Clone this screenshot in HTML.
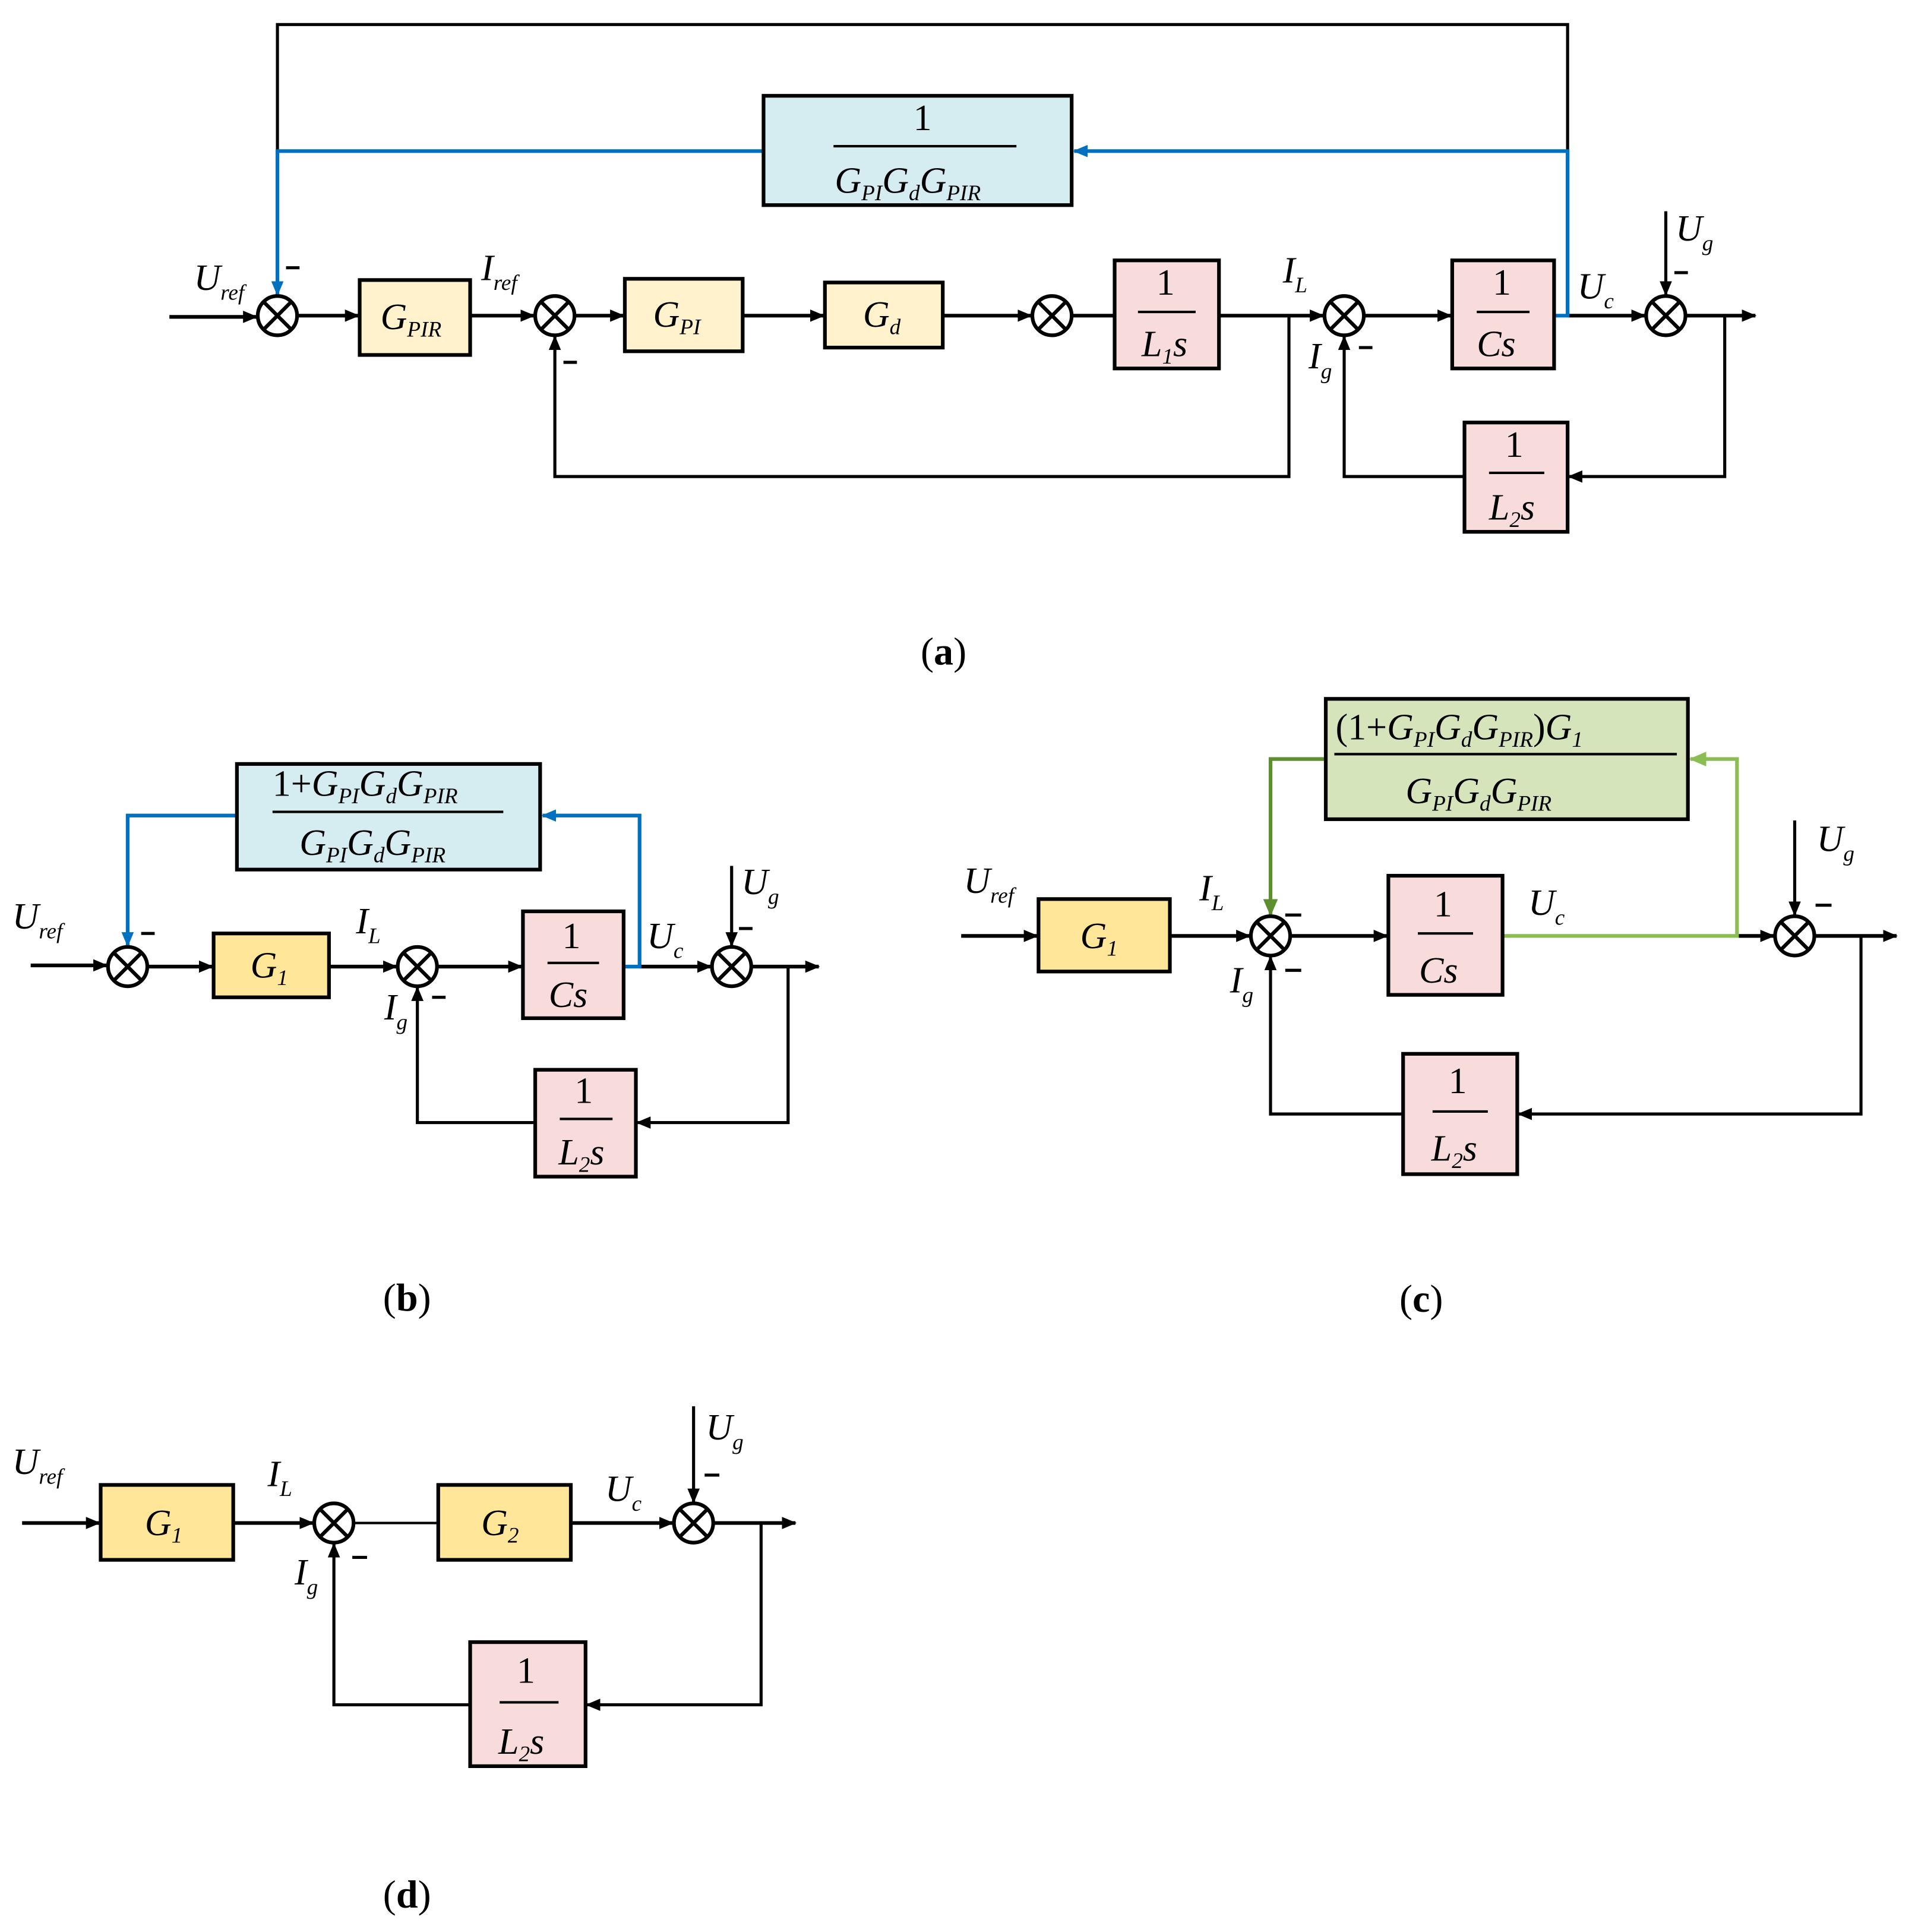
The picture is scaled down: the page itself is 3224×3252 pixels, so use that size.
<!DOCTYPE html>
<html><head><meta charset="utf-8"><style>
html,body{margin:0;padding:0;background:#fff}
svg{display:block}
text{font-family:"Liberation Serif",serif;font-style:italic;fill:#000}
.n{font-style:normal}
.b{font-style:normal;font-weight:bold}
</style></head><body>
<svg width="3224" height="3252" viewBox="0 0 1560 1573" preserveAspectRatio="none" xmlns="http://www.w3.org/2000/svg">
<defs>
<marker id="a" markerUnits="userSpaceOnUse" markerWidth="12" markerHeight="10" refX="11" refY="5" orient="auto"><path d="M0,0 L12,5 L0,10 Z" fill="#000"/></marker>
<marker id="ab" markerUnits="userSpaceOnUse" markerWidth="12" markerHeight="10" refX="11" refY="5" orient="auto"><path d="M0,0 L12,5 L0,10 Z" fill="#0070c0"/></marker>
<marker id="ag" markerUnits="userSpaceOnUse" markerWidth="14" markerHeight="12" refX="13" refY="6" orient="auto"><path d="M0,0 L14,6 L0,12 Z" fill="#5e8f2e"/></marker>
<marker id="alg" markerUnits="userSpaceOnUse" markerWidth="14" markerHeight="12" refX="13" refY="6" orient="auto"><path d="M0,0 L14,6 L0,12 Z" fill="#8bbd52"/></marker>
<g id="s"><circle r="16" fill="#fff" stroke="#000" stroke-width="3"/><path d="M-11,-11 L11,11 M11,-11 L-11,11" stroke="#000" stroke-width="3"/></g>
</defs>
<g fill="none" stroke="#000" stroke-width="3">
<!-- Panel a -->
<path d="M138,258 H209" marker-end="url(#a)"/>
<path d="M242,257 H292" marker-end="url(#a)"/>
<path d="M383,257 H435" marker-end="url(#a)"/>
<path d="M468,257 H508" marker-end="url(#a)"/>
<path d="M605,257 H671" marker-end="url(#a)"/>
<path d="M768,257 H840" marker-end="url(#a)"/>
<path d="M873,257 H908"/>
<path d="M993,257 H1078" marker-end="url(#a)"/>
<path d="M1111,257 H1182" marker-end="url(#a)"/>
<path d="M1277,257 H1340" marker-end="url(#a)"/>
<path d="M1373,257 H1430" marker-end="url(#a)"/>
<path d="M1050,257 V388 H452 V274" stroke-width="2.5" marker-end="url(#a)"/>
<path d="M1405,257 V388 H1278" stroke-width="2.5" marker-end="url(#a)"/>
<path d="M1193,388 H1095 V274" stroke-width="2.5" marker-end="url(#a)"/>
<path d="M1277,123 V20 H226 V123" stroke-width="2.5"/>
<path d="M1357,172 V240" stroke-width="2.5" marker-end="url(#a)"/>
<!-- Panel b -->
<path d="M25,786 H87" marker-end="url(#a)"/>
<path d="M120,787 H173" marker-end="url(#a)"/>
<path d="M268,787 H323" marker-end="url(#a)"/>
<path d="M356,787 H425" marker-end="url(#a)"/>
<path d="M521,787 H579" marker-end="url(#a)"/>
<path d="M612,787 H667" marker-end="url(#a)"/>
<path d="M642,787 V914 H519" stroke-width="2.5" marker-end="url(#a)"/>
<path d="M436,914 H340 V804" stroke-width="2.5" marker-end="url(#a)"/>
<path d="M596,705 V770" stroke-width="2.5" marker-end="url(#a)"/>
<!-- Panel c -->
<path d="M783,762 H845" marker-end="url(#a)"/>
<path d="M953,762 H1018" marker-end="url(#a)"/>
<path d="M1051,762 H1130" marker-end="url(#a)"/>
<path d="M1415,762 H1445" marker-end="url(#a)"/>
<path d="M1478,762 H1545" marker-end="url(#a)"/>
<path d="M1516,762 V907 H1237" stroke-width="2.5" marker-end="url(#a)"/>
<path d="M1143,907 H1035 V779" stroke-width="2.5" marker-end="url(#a)"/>
<path d="M1462,668 V745" stroke-width="2.5" marker-end="url(#a)"/>
<!-- Panel d -->
<path d="M18,1240 H81" marker-end="url(#a)"/>
<path d="M190,1240 H255" marker-end="url(#a)"/>
<path d="M288,1240 H357" stroke-width="2"/>
<path d="M465,1240 H548" marker-end="url(#a)"/>
<path d="M581,1240 H648" marker-end="url(#a)"/>
<path d="M620,1240 V1388 H478" stroke-width="2.5" marker-end="url(#a)"/>
<path d="M383,1388 H272 V1257" stroke-width="2.5" marker-end="url(#a)"/>
<path d="M565,1145 V1223" stroke-width="2.5" marker-end="url(#a)"/>
</g>
<!-- blue/green lines -->
<g fill="none" stroke-width="3">
<path d="M1266,257 H1277 V123 H875" stroke="#0070c0" marker-end="url(#ab)"/>
<path d="M622,123 H226 V240" stroke="#0070c0" marker-end="url(#ab)"/>
<path d="M508,787 H521 V664 H442" stroke="#0070c0" marker-end="url(#ab)"/>
<path d="M193,664 H104 V770" stroke="#0070c0" marker-end="url(#ab)"/>
<path d="M1224,762 H1415 V618 H1377" stroke="#8bbd52" marker-end="url(#alg)"/>
<path d="M1080,618 H1035 V745" stroke="#5e8f2e" marker-end="url(#ag)"/>
</g>
<!-- sums -->
<use href="#s" x="226" y="257"/><use href="#s" x="452" y="257"/><use href="#s" x="857" y="257"/><use href="#s" x="1095" y="257"/><use href="#s" x="1357" y="257"/>
<use href="#s" x="104" y="787"/><use href="#s" x="340" y="787"/><use href="#s" x="596" y="787"/>
<use href="#s" x="1035" y="762"/><use href="#s" x="1462" y="762"/>
<use href="#s" x="272" y="1240"/><use href="#s" x="565" y="1240"/>
<!-- boxes -->
<g stroke="#000" stroke-width="3">
<rect x="293" y="228" width="90" height="61" fill="#fff2cc"/>
<rect x="509" y="227" width="96" height="59" fill="#fff2cc"/>
<rect x="672" y="230" width="96" height="53" fill="#fff2cc"/>
<rect x="908" y="212" width="85" height="88" fill="#f8dcdc"/>
<rect x="1183" y="212" width="83" height="88" fill="#f8dcdc"/>
<rect x="1193" y="344" width="84" height="89" fill="#f8dcdc"/>
<rect x="622" y="78" width="251" height="89" fill="#d5ecf1"/>
<rect x="174" y="760" width="94" height="52" fill="#ffe699"/>
<rect x="426" y="742" width="82" height="87" fill="#f8dcdc"/>
<rect x="436" y="871" width="82" height="87" fill="#f8dcdc"/>
<rect x="193" y="622" width="247" height="86" fill="#d5ecf1"/>
<rect x="846" y="732" width="107" height="59" fill="#ffe699"/>
<rect x="1131" y="713" width="93" height="97" fill="#f8dcdc"/>
<rect x="1143" y="858" width="93" height="98" fill="#f8dcdc"/>
<rect x="1080" y="569" width="295" height="98" fill="#d6e4bc"/>
<rect x="82" y="1209" width="108" height="61" fill="#ffe699"/>
<rect x="357" y="1209" width="108" height="61" fill="#ffe699"/>
<rect x="383" y="1337" width="94" height="101" fill="#f8dcdc"/>
</g>
<!-- fraction bars -->
<g stroke="#000" stroke-width="2">
<path d="M927,254 H974 M1203,254 H1246 M1213,385 H1258 M679,119 H828"/>
<path d="M446,784 H488 M456,911 H499 M222,661 H410"/>
<path d="M1155,760 H1200 M1167,905 H1212 M1087,614 H1366"/>
<path d="M407,1386 H455"/>
</g>
<!-- box texts -->
<g font-size="30">
<text x="310" y="268">G<tspan font-size="18" dy="6">PIR</tspan></text>
<text x="532" y="266">G<tspan font-size="18" dy="6">PI</tspan></text>
<text x="703" y="266">G<tspan font-size="18" dy="6">d</tspan></text>
<text class="n" x="942" y="240">1</text><text x="930" y="290">L<tspan font-size="18" dy="6">1</tspan><tspan dy="-6">s</tspan></text>
<text class="n" x="1216" y="240">1</text><text x="1203" y="290">Cs</text>
<text class="n" x="1226" y="372">1</text><text x="1213" y="423">L<tspan font-size="18" dy="6">2</tspan><tspan dy="-6">s</tspan></text>
<text class="n" x="744" y="106">1</text><text x="680" y="157">G<tspan font-size="18" dy="6">PI</tspan><tspan dy="-6">G</tspan><tspan font-size="18" dy="6">d</tspan><tspan dy="-6">G</tspan><tspan font-size="18" dy="6">PIR</tspan></text>
<text x="204" y="796">G<tspan font-size="18" dy="6">1</tspan></text>
<text class="n" x="458" y="772">1</text><text x="447" y="820">Cs</text>
<text class="n" x="468" y="898">1</text><text x="455" y="948">L<tspan font-size="18" dy="6">2</tspan><tspan dy="-6">s</tspan></text>
<text x="222" y="648"><tspan class="n">1+</tspan>G<tspan font-size="18" dy="6">PI</tspan><tspan dy="-6">G</tspan><tspan font-size="18" dy="6">d</tspan><tspan dy="-6">G</tspan><tspan font-size="18" dy="6">PIR</tspan></text>
<text x="244" y="696">G<tspan font-size="18" dy="6">PI</tspan><tspan dy="-6">G</tspan><tspan font-size="18" dy="6">d</tspan><tspan dy="-6">G</tspan><tspan font-size="18" dy="6">PIR</tspan></text>
<text x="880" y="772">G<tspan font-size="18" dy="6">1</tspan></text>
<text class="n" x="1168" y="746">1</text><text x="1156" y="800">Cs</text>
<text class="n" x="1180" y="890">1</text><text x="1166" y="945">L<tspan font-size="18" dy="6">2</tspan><tspan dy="-6">s</tspan></text>
<text x="1088" y="602"><tspan class="n">(1+</tspan>G<tspan font-size="18" dy="6">PI</tspan><tspan dy="-6">G</tspan><tspan font-size="18" dy="6">d</tspan><tspan dy="-6">G</tspan><tspan font-size="18" dy="6">PIR</tspan><tspan class="n" dy="-6">)</tspan>G<tspan font-size="18" dy="6">1</tspan></text>
<text x="1145" y="654">G<tspan font-size="18" dy="6">PI</tspan><tspan dy="-6">G</tspan><tspan font-size="18" dy="6">d</tspan><tspan dy="-6">G</tspan><tspan font-size="18" dy="6">PIR</tspan></text>
<text x="118" y="1250">G<tspan font-size="18" dy="6">1</tspan></text>
<text x="392" y="1250">G<tspan font-size="18" dy="6">2</tspan></text>
<text class="n" x="421" y="1370">1</text><text x="406" y="1428">L<tspan font-size="18" dy="6">2</tspan><tspan dy="-6">s</tspan></text>
</g>
<!-- signal labels -->
<g font-size="30">
<text x="158" y="236">U<tspan font-size="18" dy="8">ref</tspan></text>
<text x="392" y="228">I<tspan font-size="18" dy="8">ref</tspan></text>
<text x="1045" y="230">I<tspan font-size="18" dy="8">L</tspan></text>
<text x="1066" y="300">I<tspan font-size="18" dy="8">g</tspan></text>
<text x="1285" y="243">U<tspan font-size="18" dy="8">c</tspan></text>
<text x="1365" y="196">U<tspan font-size="18" dy="8">g</tspan></text>
<text x="10" y="756">U<tspan font-size="18" dy="8">ref</tspan></text>
<text x="290" y="760">I<tspan font-size="18" dy="8">L</tspan></text>
<text x="313" y="830">I<tspan font-size="18" dy="8">g</tspan></text>
<text x="527" y="772">U<tspan font-size="18" dy="8">c</tspan></text>
<text x="604" y="728">U<tspan font-size="18" dy="8">g</tspan></text>
<text x="785" y="727">U<tspan font-size="18" dy="8">ref</tspan></text>
<text x="977" y="733">I<tspan font-size="18" dy="8">L</tspan></text>
<text x="1002" y="808">I<tspan font-size="18" dy="8">g</tspan></text>
<text x="1245" y="745">U<tspan font-size="18" dy="8">c</tspan></text>
<text x="1480" y="693">U<tspan font-size="18" dy="8">g</tspan></text>
<text x="10" y="1200">U<tspan font-size="18" dy="8">ref</tspan></text>
<text x="218" y="1210">I<tspan font-size="18" dy="8">L</tspan></text>
<text x="240" y="1290">I<tspan font-size="18" dy="8">g</tspan></text>
<text x="493" y="1222">U<tspan font-size="18" dy="8">c</tspan></text>
<text x="575" y="1172">U<tspan font-size="18" dy="8">g</tspan></text>
</g>
<!-- minus signs -->
<g stroke="#000" stroke-width="2.5">
<path d="M233,218 h11 M459,295 h11 M1107,283 h11 M1364,222 h11"/>
<path d="M115,760 h11 M352,812 h11 M602,756 h11"/>
<path d="M1047,745 h13 M1047,790 h13 M1479,737 h13"/>
<path d="M287,1268 h12 M574,1201 h12"/>
</g>
<!-- panel labels -->
<g font-size="32">
<text class="n" x="750" y="541">(<tspan class="b">a</tspan>)</text>
<text class="n" x="312" y="1067">(<tspan class="b">b</tspan>)</text>
<text class="n" x="1140" y="1068">(<tspan class="b">c</tspan>)</text>
<text class="n" x="312" y="1553">(<tspan class="b">d</tspan>)</text>
</g>
</svg>
</body></html>
